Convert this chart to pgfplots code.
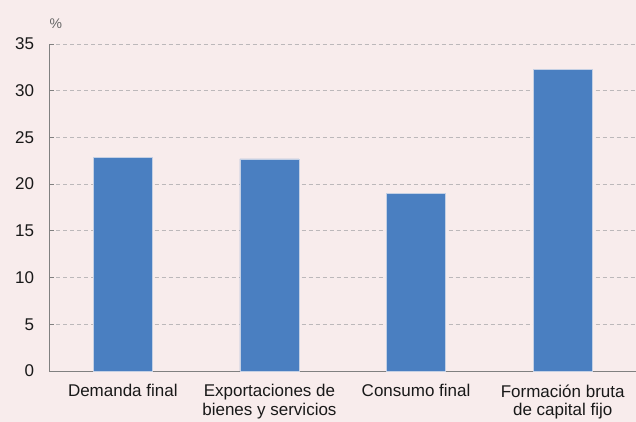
\documentclass[border=0pt]{standalone}
\usepackage{fontspec}
\setmainfont{Liberation Sans}
\usepackage{pgfplots}
\pgfplotsset{compat=1.18}
\definecolor{bg}{RGB}{248,236,236}
\definecolor{barblue}{RGB}{74,127,193}
\definecolor{baredge}{RGB}{196,208,228}
\definecolor{gridgray}{RGB}{188,184,186}
\definecolor{axisgray}{RGB}{128,128,128}
\begin{document}
\begin{tikzpicture}[font=\fontsize{17bp}{18.5bp}\selectfont]
\path[use as bounding box, fill=bg] (-49.5bp,-51bp) rectangle (586.5bp,371bp);
\begin{axis}[
  at={(0,0)}, anchor=south west,
  scale only axis, width=586.5bp, height=327bp,
  xmin=-0.5, xmax=3.5, ymin=0, ymax=35,
  ytick={0,5,...,35},
  xtick={0,1,2,3},
  xticklabels={Demanda final,{Exportaciones de\\bienes y servicios},Consumo final,{Formación bruta\\de capital fijo}},
  xticklabel style={align=center, text=black!90, font=\fontsize{17bp}{18.5bp}\selectfont, yshift=-10bp},
  yticklabel style={text=black!90, font=\fontsize{17bp}{18.5bp}\selectfont, xshift=-12bp},
  major x tick style={draw=none},
  extra x ticks={0.5,1.5,2.5},
  extra x tick labels={},
  extra x tick style={grid=none, major tick length=5bp, tick style={draw=axisgray!70, line width=1bp}},
  axis x line*=bottom, axis y line*=left,
  tick align=inside,
  major tick length=5bp,
  ytick style={draw=axisgray, line width=1bp},
  ymajorgrids,
  grid style={gridgray, dash pattern=on 4bp off 3bp, line width=1bp},
  axis line style={axisgray, line width=1bp},
  /pgf/number format/assume math mode=true,
  clip=false,
]
\addplot[ybar, bar width=59bp, fill=barblue, draw=baredge, line width=0.6bp]
  coordinates {(0,22.9) (1,22.7) (2,19.0) (3,32.3)};
\node[anchor=base west, text=black!60, font=\fontsize{14bp}{16bp}\selectfont, inner sep=0pt] at (rel axis cs:0,1) [yshift=16bp] {\%};
\end{axis}
\end{tikzpicture}
\end{document}
